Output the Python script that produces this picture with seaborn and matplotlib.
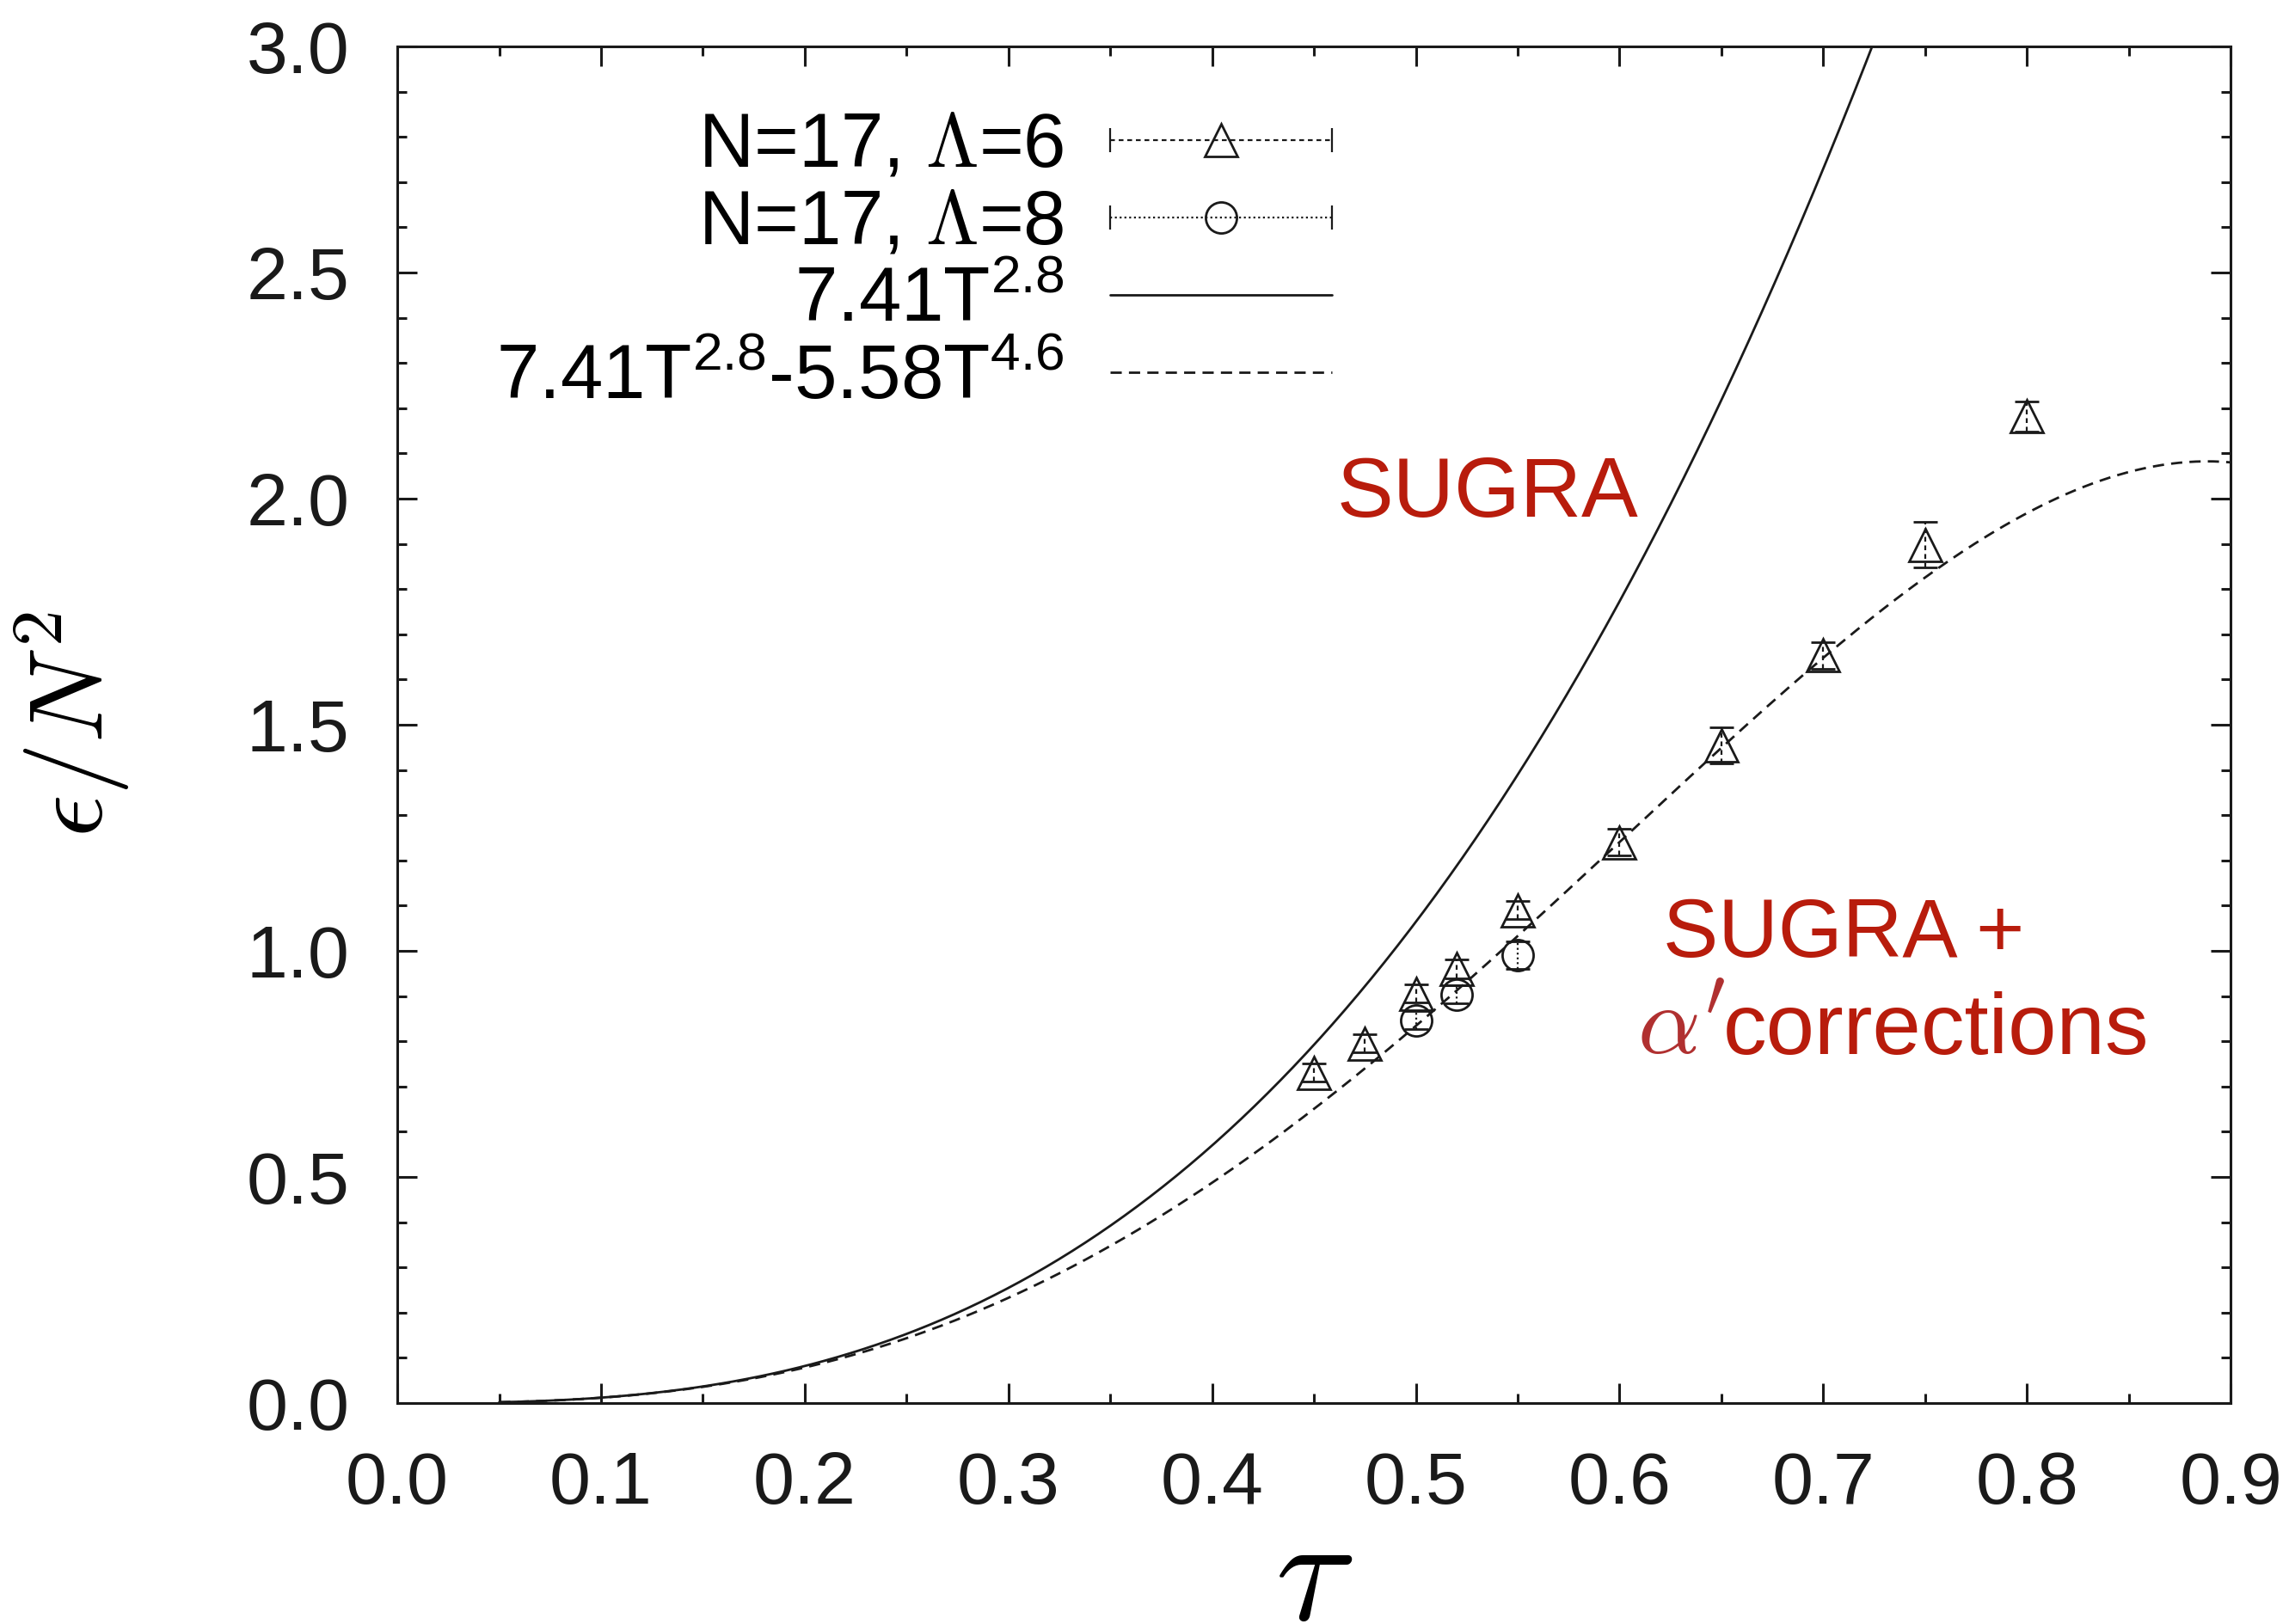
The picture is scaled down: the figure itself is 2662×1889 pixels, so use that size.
import numpy as np
import pandas as pd
import seaborn as sns
import matplotlib.pyplot as plt
from matplotlib.lines import Line2D
from matplotlib.legend_handler import HandlerLine2D
from matplotlib.ticker import MultipleLocator, FormatStrFormatter

# lattice data, N=17, Lambda=6
t_l6 = [0.45, 0.475, 0.50, 0.52, 0.55, 0.60, 0.65, 0.70, 0.75, 0.80]
e_l6 = [0.73, 0.795, 0.905, 0.96, 1.09, 1.24, 1.455, 1.653, 1.898, 2.182]
err_l6 = [0.02, 0.02, 0.02, 0.02, 0.02, 0.03, 0.04, 0.03, 0.05, 0.033]

# lattice data, N=17, Lambda=8
t_l8 = [0.50, 0.52, 0.55]
e_l8 = [0.846, 0.903, 0.99]
err_l8 = [0.02, 0.02, 0.03]

# fit coefficients from the legend
sugra_c, sugra_p = 7.41, 2.8
alpha_c, alpha_p = 5.58, 4.6
t_min, t_max = 0.05, 0.9

labels = ['N=17, $\\Lambda$=6', 'N=17, $\\Lambda$=8',
          '7.41T$^{2.8}$', '7.41T$^{2.8}$-5.58T$^{4.6}$']

red = '#b81c0c'

sns.set_theme(style='ticks')
plt.rcParams['font.family'] = ['Liberation Sans', 'DejaVu Sans']
plt.rcParams['mathtext.fontset'] = 'cm'
plt.rcParams['mathtext.rm'] = 'Liberation Sans'
plt.rcParams['mathtext.it'] = 'Liberation Sans:italic'
plt.rcParams['mathtext.sf'] = 'Liberation Sans'
for k in ['text.color', 'axes.labelcolor', 'xtick.color', 'ytick.color',
          'axes.edgecolor']:
    plt.rcParams[k] = 'black'

T = np.linspace(t_min, t_max, 400)
curves = pd.DataFrame({
    'T': T,
    'sugra': sugra_c * T**sugra_p,
    'alpha': sugra_c * T**sugra_p - alpha_c * T**alpha_p,
})

fig = plt.figure(figsize=(13.31, 9.445), dpi=200)
ax = fig.add_axes([0.1736, 0.1361, 0.8009, 0.8353])

sns.lineplot(data=curves, x='T', y='sugra', color='k', lw=1.0,
             legend=False, ax=ax)
sns.lineplot(data=curves, x='T', y='alpha', color='k', lw=1.0,
             linestyle=(0, (4.7, 3)), legend=False, ax=ax)

eb6 = ax.errorbar(t_l6, e_l6, yerr=err_l6, fmt='^', ms=14, mfc='none',
                  mec='k', mew=1.0, ecolor='k', elinewidth=0.8,
                  capsize=5, capthick=0.8)
eb6.lines[2][0].set_linestyle((0, (2.5, 2)))
eb8 = ax.errorbar(t_l8, e_l8, yerr=err_l8, fmt='o', ms=13, mfc='none',
                  mec='k', mew=1.0, ecolor='k', elinewidth=0.8,
                  capsize=5, capthick=0.8)
eb8.lines[2][0].set_linestyle((0, (1, 1.5)))

ax.set_xlim(0, 0.9)
ax.set_ylim(0, 3.0)
ax.xaxis.set_major_locator(MultipleLocator(0.1))
ax.xaxis.set_minor_locator(MultipleLocator(0.05))
ax.yaxis.set_major_locator(MultipleLocator(0.5))
ax.yaxis.set_minor_locator(MultipleLocator(0.1))
ax.xaxis.set_major_formatter(FormatStrFormatter('%.1f'))
ax.yaxis.set_major_formatter(FormatStrFormatter('%.1f'))
ax.tick_params(which='both', direction='in', top=True, right=True,
               width=1.1, color='k', labelcolor='k', labelsize=31, pad=20)
ax.tick_params(which='major', length=8.3)
ax.tick_params(which='minor', length=4)
for s in ax.spines.values():
    s.set_linewidth(1.1)
    s.set_color('k')

ax.set_xlabel(r'$\tau$', fontsize=62, va='baseline')
ax.set_ylabel(r'$\epsilon/N^2$', fontsize=44)
ax.xaxis.set_label_coords(0.5, -0.160)
ax.yaxis.set_label_coords(-0.145, 0.5)

ax.text(0.5353, 2.008, 'SUGRA', color=red, fontsize=35.5,
        ha='center', va='center')
ax.text(0.710, 1.035, 'SUGRA +', color=red, fontsize=34.7,
        ha='center', va='center')
ax.text(0.6507, 0.772, 'corrections', color=red, fontsize=36.5,
        ha='left', va='baseline')
ax.text(0.6522, 0.772, r"$\alpha'$", color='#b03030', fontsize=41,
        ha='right', va='baseline')

# legend handles, gnuplot style: line with end caps and marker in the middle
cap6 = Line2D([], [], color='k', lw=0.8, ls=(0, (2.5, 2)), marker='|',
              ms=10, mew=0.8)
mk6 = Line2D([], [], ls='none', marker='^', ms=14, mfc='none', mec='k',
             mew=1.0)
cap8 = Line2D([], [], color='k', lw=0.8, ls=(0, (1, 1.5)), marker='|',
              ms=10, mew=0.8)
mk8 = Line2D([], [], ls='none', marker='o', ms=13, mfc='none', mec='k',
             mew=1.0)
h_sugra = Line2D([], [], color='k', lw=1.0)
h_alpha = Line2D([], [], color='k', lw=1.0, ls=(0, (4.7, 3)))

# markerfirst=False puts labels left of handles and right-aligns them
leg = ax.legend([(cap6, mk6), (cap8, mk8), h_sugra, h_alpha], labels,
                handler_map={cap6: HandlerLine2D(numpoints=2, marker_pad=0),
                             cap8: HandlerLine2D(numpoints=2, marker_pad=0)},
                loc='upper right', bbox_to_anchor=(0.5096, 0.9527),
                frameon=False, markerfirst=False, fontsize=32,
                handlelength=2.9, handletextpad=0.6, labelspacing=0.07,
                borderpad=0, borderaxespad=0)
for t in leg.get_texts()[2:]:
    t.set_math_fontfamily('custom')

fig.savefig('out.png', dpi=200)
